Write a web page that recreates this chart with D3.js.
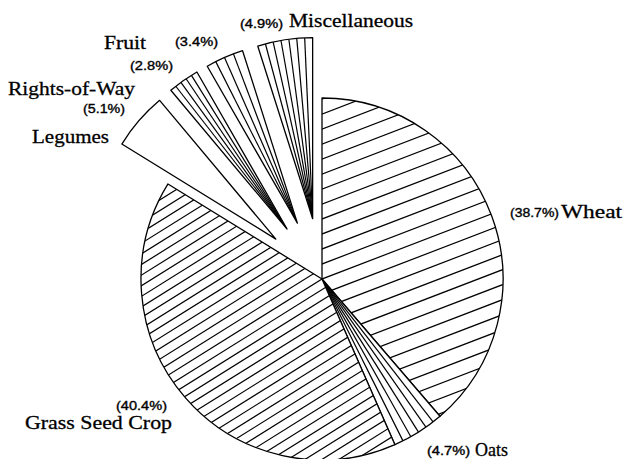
<!DOCTYPE html>
<html>
<head>
<meta charset="utf-8">
<script src="https://cdn.jsdelivr.net/npm/d3@7"></script>
<style>
  body { margin: 0; background: #fff; }
  svg { display: block; }
</style>
</head>
<body>
<svg></svg>
<script>
// slices, clockwise from 12 o'clock
let categories = ['Wheat', 'Oats', 'Grass Seed Crop', 'Legumes', 'Rights-of-Way', 'Fruit', 'Miscellaneous']
let shares = [38.7, 4.7, 40.4, 5.1, 2.8, 3.4, 4.9]
let percentLabels = ['(38.7%)', '(4.7%)', '(40.4%)', '(5.1%)', '(2.8%)', '(3.4%)', '(4.9%)']

let width = 624
let height = 459
let cx = 322
let cy = 279
let radius = 181
let explode = 61

// how each slice is filled: parallel hatch, fan of lines, or empty
let fills = [
    { type: 'hatch', angle: 21, gap: 14 },
    { type: 'fan', lines: 5 },
    { type: 'hatch', angle: 32, gap: 9 },
    { type: 'none' },
    { type: 'fan', lines: 4 },
    { type: 'fan', lines: 3 },
    { type: 'fan', lines: 6 }
]
let exploded = [false, false, false, true, true, true, true]

// where the texts sit: [x, baseline, width]
let nameBoxes = [[561, 218, 61], [475, 456, 33], [25, 429, 147], [32, 143, 77], [8, 95, 127], [104, 49, 42], [289, 27, 124]]
let pctBoxes = [[510, 217, 49], [427, 455, 43], [116, 410, 51], [83, 113, 42], [130, 70, 43], [175, 46, 43], [240, 28, 43]]

let svg = d3.select('svg')
    .attr('width', width)
    .attr('height', height)

let pie = d3.pie().sort(null).value(d => d)
let slices = pie(shares)
let arc = d3.arc().innerRadius(0).outerRadius(radius)

// exploded slices move out along their middle angle
let offsetOf = (d, i) => {
    if (!exploded[i]) return [0, 0]
    let mid = (d.startAngle + d.endAngle) / 2
    return [Math.sin(mid) * explode, -Math.cos(mid) * explode]
}

let defs = svg.append('defs')

let g = svg.append('g').attr('transform', 'translate(' + cx + ',' + cy + ')')

slices.forEach((d, i) => {
    let off = offsetOf(d, i)
    let sg = g.append('g').attr('transform', 'translate(' + off[0] + ',' + off[1] + ')')
    let f = fills[i]

    defs.append('clipPath').attr('id', 'clip' + i)
        .append('path').attr('d', arc(d))

    sg.append('path')
        .attr('d', arc(d))
        .attr('fill', '#fff')

    let lines = sg.append('g')
        .attr('clip-path', 'url(#clip' + i + ')')
        .attr('stroke', '#000')
        .attr('stroke-width', 1.2)
        .attr('fill', 'none')

    if (f.type === 'hatch') {
        let a = f.angle * Math.PI / 180
        let dx = Math.cos(a), dy = -Math.sin(a)
        let nx = -dy, ny = dx
        let n = Math.ceil(radius * 1.5 / f.gap)
        for (let k = -n; k <= n; k++) {
            let px = nx * k * f.gap, py = ny * k * f.gap
            lines.append('line')
                .attr('x1', px - dx * 400).attr('y1', py - dy * 400)
                .attr('x2', px + dx * 400).attr('y2', py + dy * 400)
        }
    } else if (f.type === 'fan') {
        let step = (d.endAngle - d.startAngle) / (f.lines + 1)
        for (let k = 1; k <= f.lines; k++) {
            let t = d.startAngle + step * k
            lines.append('line')
                .attr('x1', 0).attr('y1', 0)
                .attr('x2', Math.sin(t) * radius).attr('y2', -Math.cos(t) * radius)
        }
    }

    sg.append('path')
        .attr('d', arc(d))
        .attr('fill', 'none')
        .attr('stroke', '#000')
        .attr('stroke-width', 1.3)
        .attr('stroke-linejoin', 'round')
})

// labels
svg.selectAll('text.name')
    .data(categories)
    .enter()
    .append('text')
    .attr('class', 'name')
    .attr('x', (c, i) => nameBoxes[i][0])
    .attr('y', (c, i) => nameBoxes[i][1])
    .attr('textLength', (c, i) => nameBoxes[i][2])
    .attr('lengthAdjust', 'spacingAndGlyphs')
    .attr('font-family', 'Liberation Serif, Times New Roman, serif')
    .attr('font-size', 19)
    .attr('fill', '#000')
    .attr('stroke', '#000')
    .attr('stroke-width', 0.3)
    .text(c => c)

svg.selectAll('text.pct')
    .data(percentLabels)
    .enter()
    .append('text')
    .attr('class', 'pct')
    .attr('x', (c, i) => pctBoxes[i][0])
    .attr('y', (c, i) => pctBoxes[i][1])
    .attr('textLength', (c, i) => pctBoxes[i][2])
    .attr('lengthAdjust', 'spacingAndGlyphs')
    .attr('font-family', 'Liberation Sans, Arial, sans-serif')
    .attr('font-size', 12)
    .attr('fill', '#000')
    .attr('stroke', '#000')
    .attr('stroke-width', 0.35)
    .text(c => c)
</script>
</body>
</html>
